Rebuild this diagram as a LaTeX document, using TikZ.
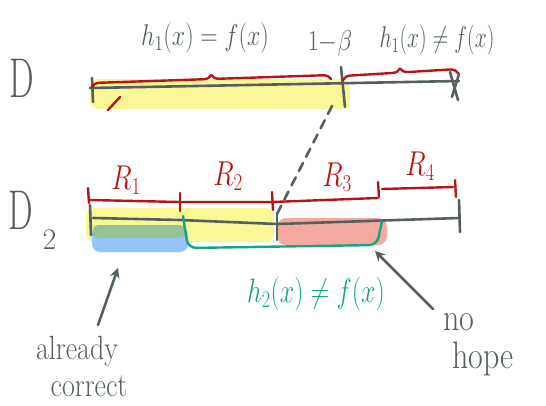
\RequirePackage{fix-cm}
\documentclass[tikz,border=0pt]{standalone}
\usepackage{graphicx}
\usetikzlibrary{decorations.pathreplacing,arrows.meta}
\definecolor{graypen}{RGB}{85,95,95}
\definecolor{redpen}{RGB}{185,20,20}
\definecolor{hlyellow}{RGB}{250,248,150}
\definecolor{hlblue}{RGB}{150,195,250}
\definecolor{hlgreen}{RGB}{150,195,150}
\definecolor{hlred}{RGB}{245,170,160}
\definecolor{tealpen}{RGB}{20,165,130}
\tikzset{
  gpen/.style={draw=graypen,line width=2.6pt,line cap=round,line join=round},
  rpen/.style={draw=redpen,line width=2.4pt,line cap=round,line join=round},
  tpen/.style={draw=tealpen,line width=2.4pt,line cap=round,line join=round},
  bigtxt/.style={text=graypen,inner sep=0pt,font=\fontsize{56}{56}\selectfont},
  eqtxt/.style={inner sep=0pt,font=\fontsize{24}{26}\selectfont},
  rtxt/.style={text=redpen,inner sep=0pt,font=\fontsize{30}{32}\selectfont},
  wtxt/.style={text=graypen,inner sep=0pt,font=\fontsize{28}{30}\selectfont},
  rbrace/.style={rpen,decorate,decoration={brace,amplitude=8pt}},
}
\begin{document}
\begin{tikzpicture}[x=1pt,y=-1pt]
\useasboundingbox (0,0) rectangle (546,405);
% highlights
\fill[hlyellow,rounded corners=9pt] (90,79) rectangle (350,109);
\fill[hlyellow,rounded corners=8pt] (86,208) rectangle (274,242);
\fill[hlblue,rounded corners=8pt] (92,226) rectangle (188,252);
\fill[hlgreen,rounded corners=5pt] (93,225) rectangle (185,238);
\fill[hlred,rounded corners=9pt] (277,218) rectangle (387,245);
% labels
\node[bigtxt] (D1) at (22,78) {\scalebox{0.62}[1]{D}};
\node[bigtxt,anchor=west] (D2) at (8,220) {\scalebox{0.62}[1]{D}\hspace{10pt}\raisebox{-20pt}{\fontsize{30}{30}\selectfont 2}};
\node[eqtxt,text=graypen] (h1eq) at (205,38) {\scalebox{1}[1.25]{$h_1(x)=f(x)$}};
\node[eqtxt,text=graypen] (onebeta) at (330,43) {\scalebox{1}[1.2]{$1{-}\beta$}};
\node[eqtxt,text=graypen] (h1neq) at (437,40) {\scalebox{0.9}[1.25]{$h_1(x)\neq f(x)$}};
\node[rtxt] (R1) at (126,180) {\scalebox{0.9}[1.15]{$R_1$}};
\node[rtxt] (R2) at (228,176) {\scalebox{0.9}[1.15]{$R_2$}};
\node[rtxt] (R3) at (337,177) {\scalebox{0.9}[1.15]{$R_3$}};
\node[rtxt] (R4) at (420,166) {\scalebox{0.9}[1.15]{$R_4$}};
\node[eqtxt,text=tealpen,font=\fontsize{26}{28}\selectfont] (h2neq) at (316,294) {\scalebox{1}[1.3]{$h_2(x)\neq f(x)$}};
\node[wtxt] (already) at (77,351) {\scalebox{1}[1.2]{already}};
\node[wtxt] (correct) at (89,386) {\scalebox{1}[1.2]{correct}};
\node[wtxt,anchor=west,font=\fontsize{32}{34}\selectfont] (no) at (443,322) {\scalebox{1}[1.2]{no}};
\node[wtxt,anchor=west,font=\fontsize{32}{34}\selectfont] (hope) at (452,359) {\scalebox{1}[1.2]{hope}};
% top line D
\coordinate (topL) at (90,88);
\coordinate (topR) at (459,81);
\coordinate (betaTop) at (341,67);
\coordinate (betaBot) at (345,107);
\draw[gpen] (topL) -- (topR);
\draw[gpen] (92,78) -- (93,102);
\draw[gpen] (betaTop) -- (betaBot);
\draw[gpen] (450,72) -- (458,100);
\draw[gpen] (459,74) -- (452,97);
\draw[rbrace] (92,87) -- (331,79);
\draw[rbrace] (343,80) -- (458,73);
\draw[rpen] (108,110) -- (120,97);
% dashed link
\coordinate (dashTop) at (332,106);
\coordinate (d2mid) at (277,214);
\draw[gpen,dash pattern=on 9pt off 7pt] (dashTop) -- (d2mid);
% D2 line
\draw[gpen] (93,218) -- (180,220) -- (277,224) -- (459,218);
\draw[gpen] (90,205) -- (91,235);
\draw[gpen] (d2mid) -- (277,240);
\draw[gpen] (459,200) -- (460,232);
% R brackets
\draw[rpen] (90,200) -- (180,202) -- (272,202) -- (378,198);
\draw[rpen] (88,188) -- (89,203);
\draw[rpen] (180,193) -- (180,211);
\draw[rpen] (272,192) -- (273,210);
\draw[rpen] (378,182) -- (379,197);
\draw[rpen] (382,189) -- (453,187);
\draw[rpen] (455,180) -- (456,197);
% teal bracket
\draw[tpen,rounded corners=8pt] (183,216) -- (188,248) -- (377,245) -- (382,221);
% arrows
\coordinate (blueTarget) at (118,268);
\coordinate (redTarget) at (375,251);
\draw[gpen,-{Stealth[length=10pt,width=10pt]}] (98,325) -- (blueTarget);
\draw[gpen,-{Stealth[length=10pt,width=10pt]}] (433,309) -- (redTarget);
\end{tikzpicture}
\end{document}
